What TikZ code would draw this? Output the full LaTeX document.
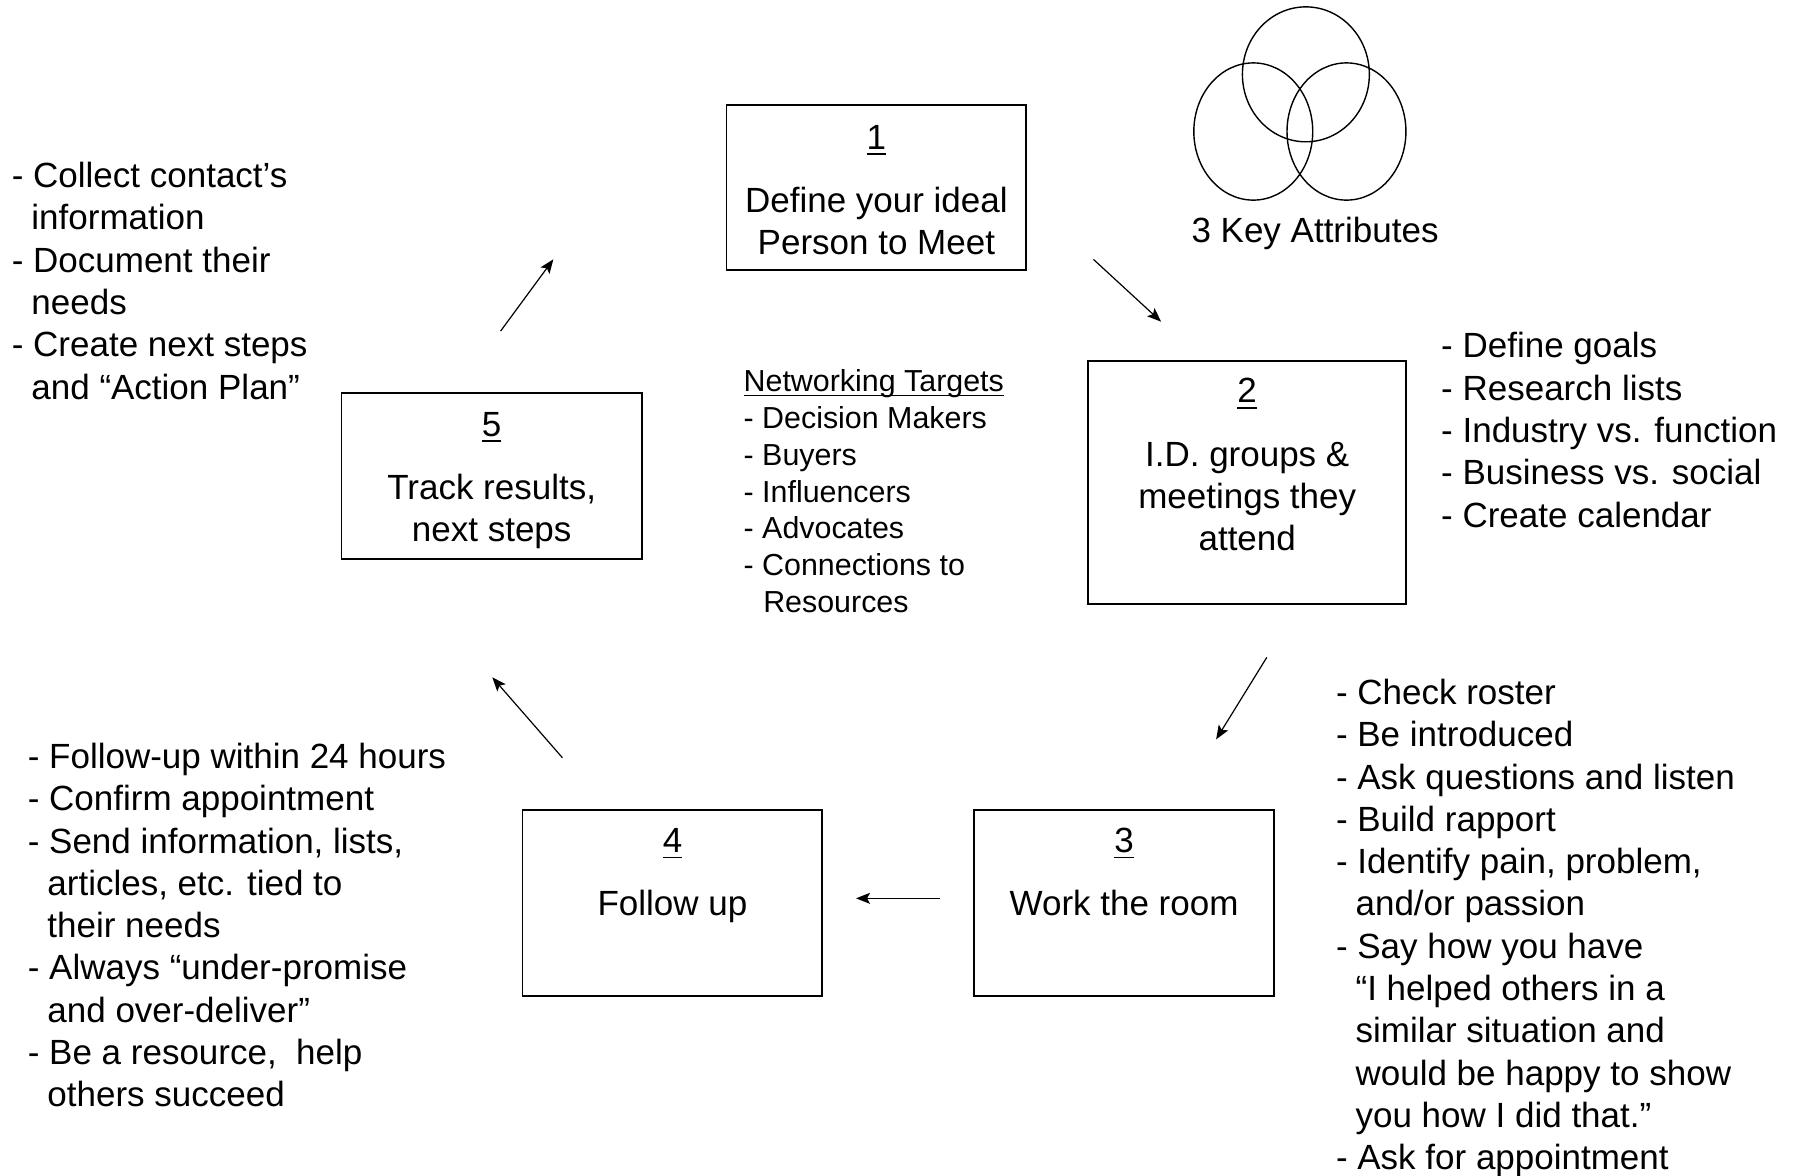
\documentclass[tikz,border=0pt]{standalone}
\usepackage{fontspec}
\setmainfont{Liberation Sans}
\usetikzlibrary{arrows.meta}
\def\u{0.5718pt}
\newcommand\myul[3]{\leavevmode\setbox0\hbox{#3}\rlap{\rule[-#1]{\wd0}{#2}}\box0}
\newcommand\ind{\hspace*{9.8pt}}
\begin{document}
\begin{tikzpicture}[x=0.5718pt,y=-0.5718pt,
  box/.style={draw, line width=0.8pt, inner sep=0pt},
  boxtxt/.style={anchor=base, inner sep=0pt, font=\fontsize{17.5}{21.15}\selectfont},
  listtxt/.style={anchor=base west, inner sep=0pt, font=\fontsize{17.5}{21.15}\selectfont},
  nettxt/.style={anchor=base west, inner sep=0pt, font=\fontsize{15.2}{18.4}\selectfont},
  flow/.style={line width=0.6pt, -{Stealth[length=7pt,width=5.5pt,inset=1.5pt]}},
  venn/.style={line width=0.7pt}
]
\useasboundingbox (0,0) rectangle (1568,1028);

% boxes
\node[box, minimum width=262*\u, minimum height=144.5*\u] (b1) at (766.4,164.1) {};
\node[box, minimum width=278*\u, minimum height=212.5*\u] (b2) at (1090.7,422.1) {};
\node[box, minimum width=262*\u, minimum height=162.5*\u] (b3) at (983,789.5) {};
\node[box, minimum width=262*\u, minimum height=162.5*\u] (b4) at (588.1,789.5) {};
\node[box, minimum width=262.4*\u, minimum height=145*\u] (b5) at (430,416.3) {};

% box texts
\node[boxtxt] (t1) at (766.4,130.5) {\begin{tabular}[t]{@{}c@{}}\myul{3pt}{0.9pt}{1}\\[10.3pt]Define your ideal\\Person to Meet\end{tabular}};
\node[boxtxt] (t2) at (1090.7,352) {\begin{tabular}[t]{@{}c@{}}\myul{3pt}{0.9pt}{2}\\[10.6pt]I.D. groups \&\\meetings they\\attend\end{tabular}};
\node[boxtxt] (t3) at (983,745.5) {\begin{tabular}[t]{@{}c@{}}\myul{3pt}{0.9pt}{3}\\[10.3pt]Work the room\end{tabular}};
\node[boxtxt] (t4) at (588.1,745.5) {\begin{tabular}[t]{@{}c@{}}\myul{3pt}{0.9pt}{4}\\[10.3pt]Follow up\end{tabular}};
\node[boxtxt] (t5) at (430,381.5) {\begin{tabular}[t]{@{}c@{}}\myul{3pt}{0.9pt}{5}\\[10.3pt]Track results,\\next steps\end{tabular}};

% venn
\draw[venn] (1142,65) ellipse [x radius=55.5, y radius=59];
\draw[venn] (1096,115) ellipse [x radius=52, y radius=60];
\draw[venn] (1177.5,115) ellipse [x radius=52, y radius=60];
\node[boxtxt] (key) at (1150,212) {3 Key Attributes};

% lists
\node[listtxt] (l5) at (10,164) {\begin{tabular}[t]{@{}l@{}}- Collect contact’s\\\ind information\\- Document their\\\ind needs\\- Create next steps\\\ind and “Action Plan”\end{tabular}};
\node[listtxt] (l2) at (1260,313) {\begin{tabular}[t]{@{}l@{}}- Define goals\\- Research lists\\- Industry vs. function\\- Business vs. social\\- Create calendar\end{tabular}};
\node[listtxt] (l3) at (1168,616) {\begin{tabular}[t]{@{}l@{}}- Check roster\\- Be introduced\\- Ask questions and listen\\- Build rapport\\- Identify pain, problem,\\\ind and/or passion\\- Say how you have\\\ind “I helped others in a\\\ind similar situation and\\\ind would be happy to show\\\ind you how I did that.”\\- Ask for appointment\end{tabular}};
\node[listtxt] (l4) at (24,672) {\begin{tabular}[t]{@{}l@{}}- Follow-up within 24 hours\\- Confirm appointment\\- Send information, lists,\\\ind articles, etc. tied to\\\ind their needs\\- Always “under-promise\\\ind and over-deliver”\\- Be a resource,\ \ help\\\ind others succeed\end{tabular}};
\node[nettxt] (net) at (650,342.5) {\begin{tabular}[t]{@{}l@{}}\myul{2.4pt}{0.75pt}{Networking Targets}\\- Decision Makers\\- Buyers\\- Influencers\\- Advocates\\- Connections to\\\ind Resources\end{tabular}};

% arrows
\coordinate (a12s) at (956.2,226.8);  \coordinate (a12e) at (1015.4,281.3);
\coordinate (a23s) at (1107.8,574.9); \coordinate (a23e) at (1063.5,646.6);
\coordinate (a34s) at (822,785.6);    \coordinate (a34e) at (748.6,785.6);
\coordinate (a45s) at (491.8,662.6);  \coordinate (a45e) at (430.5,592.3);
\coordinate (a51s) at (437.8,289.5);  \coordinate (a51e) at (483.9,226.8);
\draw[flow] (a12s) -- (a12e);
\draw[flow] (a23s) -- (a23e);
\draw[flow] (a34s) -- (a34e);
\draw[flow] (a45s) -- (a45e);
\draw[flow] (a51s) -- (a51e);
\end{tikzpicture}
\end{document}
